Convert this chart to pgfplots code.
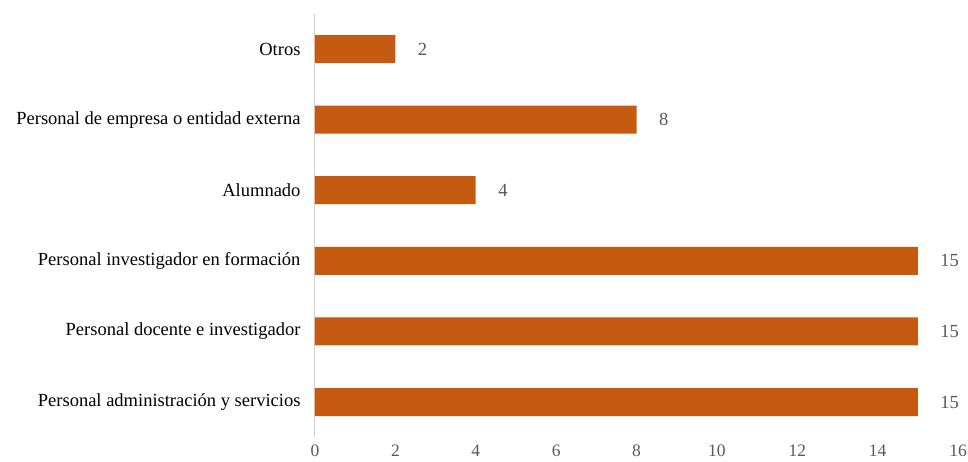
\documentclass[border=0pt]{standalone}
\usepackage{pgfplots}
\pgfplotsset{compat=1.18}
\usepackage{fontspec}
\setmainfont{Liberation Serif}
\definecolor{barc}{HTML}{C55A11}
\definecolor{axc}{HTML}{D0D0D0}
\definecolor{tickc}{HTML}{595959}
\begin{document}
\begin{tikzpicture}
\useasboundingbox (-315pt,-23.7pt) rectangle (653pt,437.3pt);
\begin{axis}[
  at={(0,0)}, anchor=south west,
  scale only axis,
  width=643pt, height=423.6pt,
  xbar, bar width=28pt,
  xmin=0, xmax=16,
  ymin=-0.5, ymax=5.5,
  xtick={0,2,...,16},
  ytick={0,...,5},
  yticklabels={Personal administración y servicios,Personal docente e investigador,Personal investigador en formación,Alumnado,Personal de empresa o entidad externa,Otros},
  axis x line=none,
  axis y line*=left,
  y axis line style={draw=axc, line width=1pt, -},
  major tick length=0pt,
  tick style={draw=none},
  /pgf/number format/assume math mode=true,
  every axis/.append style={font=\fontsize{18.5}{22}\selectfont},
  yticklabel style={font=\fontsize{18.5}{22}\selectfont, text=black, xshift=-11pt},
  nodes near coords,
  nodes near coords style={font=\fontsize{18.5}{22}\selectfont, text=tickc, anchor=west, xshift=19pt},
  clip=false,
]
\addplot[fill=barc, draw=none] coordinates {(15,0) (15,1) (15,2) (4,3) (8,4) (2,5)};
\end{axis}
\begin{scope}[font=\fontsize{17.5}{21}\selectfont]
\foreach \v in {0,2,...,16} {
  \pgfmathsetmacro{\xx}{\v*643/16}
  \node[anchor=north, text=tickc, inner sep=0pt] at (\xx pt,-7pt) {\v};
}
\end{scope}
\end{tikzpicture}
\end{document}
